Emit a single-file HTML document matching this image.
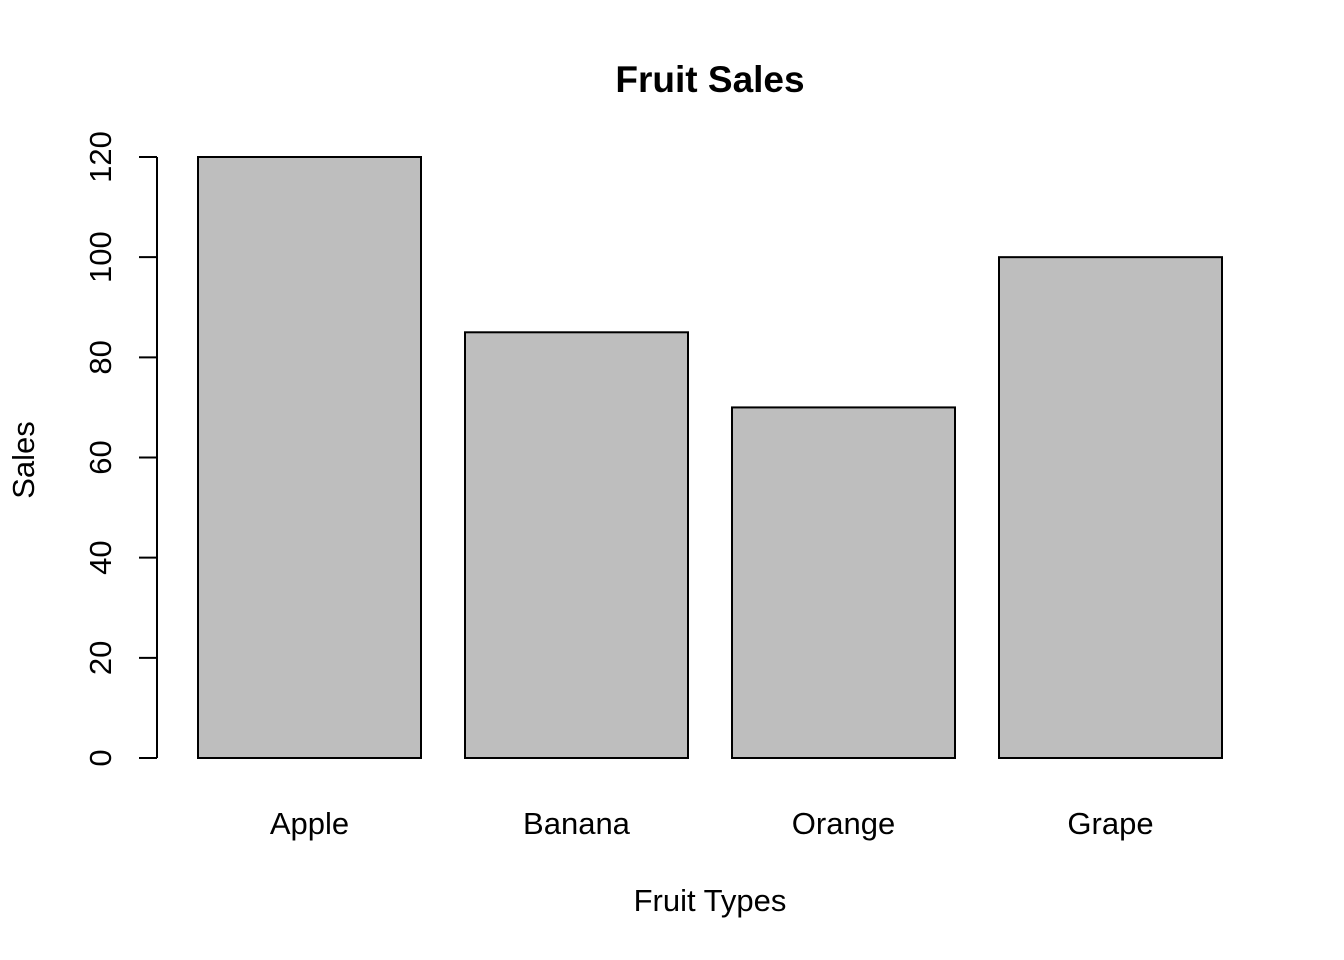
<!DOCTYPE html>
<html><head><meta charset="utf-8"><style>
html,body{margin:0;padding:0;background:#fff;}
svg{display:block;font-family:"Liberation Sans",Arial,sans-serif;}
</style></head><body>
<svg id="chart" width="1344" height="960" viewBox="0 0 1344 960">
<rect width="1344" height="960" fill="#fff"/>
<text x="710" y="92" text-anchor="middle" font-size="37" font-weight="bold">Fruit Sales</text>
<text x="710" y="911" text-anchor="middle" font-size="31">Fruit Types</text>
<text transform="translate(34,460) rotate(-90)" text-anchor="middle" font-size="31">Sales</text>
<g id="bars"></g>
<g id="yaxis"></g>
<g id="xlabels"></g>
</svg>
<script>
const categories = ["Apple","Banana","Orange","Grape"];
const sales = [120,85,70,100];
const yTicks = [0,20,40,60,80,100,120];

const NS="http://www.w3.org/2000/svg";
const y0=758, yTop=157, yMax=120;
function yScale(v){return y0-(v/yMax)*(y0-yTop);}
const barStart=198, barW=223, barStep=267;
function xScale(i){return barStart+i*barStep;}

const bars=document.getElementById('bars');
const xl=document.getElementById('xlabels');
sales.forEach((v,i)=>{
  const r=document.createElementNS(NS,'rect');
  r.setAttribute('x',xScale(i));r.setAttribute('y',yScale(v));
  r.setAttribute('width',barW);r.setAttribute('height',y0-yScale(v));
  r.setAttribute('fill','#bebebe');r.setAttribute('stroke','#000');r.setAttribute('stroke-width','2');
  
  
  bars.appendChild(r);
  const t=document.createElementNS(NS,'text');
  t.setAttribute('x',xScale(i)+barW/2);t.setAttribute('y',834);
  t.setAttribute('text-anchor','middle');t.setAttribute('font-size','31');
  t.textContent=categories[i];
  
  
  xl.appendChild(t);
});

const ya=document.getElementById('yaxis');
const line=document.createElementNS(NS,'line');
line.setAttribute('x1',157);line.setAttribute('x2',157);
line.setAttribute('y1',yScale(yTicks[yTicks.length-1]));line.setAttribute('y2',yScale(yTicks[0]));
line.setAttribute('stroke','#000');line.setAttribute('stroke-width','2');


ya.appendChild(line);
yTicks.forEach(v=>{
  const y=yScale(v);
  const tk=document.createElementNS(NS,'line');
  tk.setAttribute('x1',139);tk.setAttribute('x2',157);tk.setAttribute('y1',y);tk.setAttribute('y2',y);
  tk.setAttribute('stroke','#000');tk.setAttribute('stroke-width','2');
  
  
  ya.appendChild(tk);
  const t=document.createElementNS(NS,'text');
  t.setAttribute('transform','translate(111,'+y+') rotate(-90)');
  t.setAttribute('text-anchor','middle');t.setAttribute('font-size','31');
  t.textContent=v;
  
  
  ya.appendChild(t);
});
</script>
</body></html>
